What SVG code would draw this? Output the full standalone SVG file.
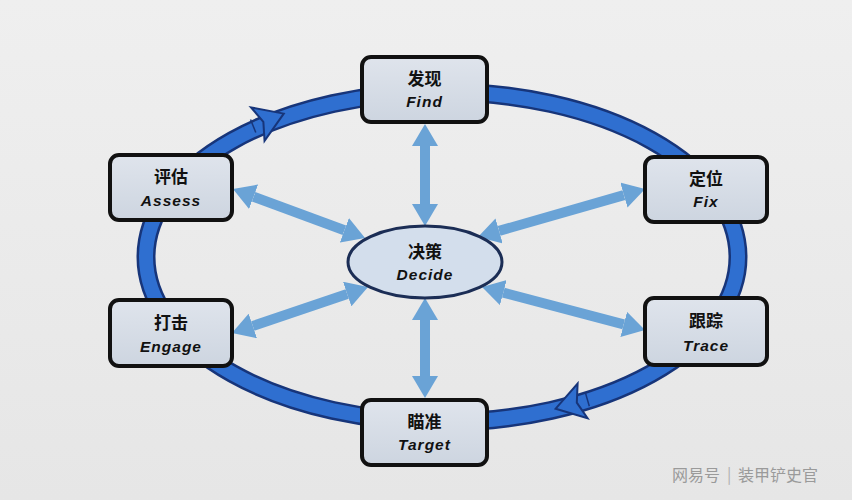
<svg xmlns="http://www.w3.org/2000/svg" width="852" height="500" viewBox="0 0 852 500">
<defs>
<linearGradient id="bg" x1="0" y1="0" x2="0" y2="1">
<stop offset="0" stop-color="#efefef"/>
<stop offset="1" stop-color="#e6e6e6"/>
</linearGradient>
<linearGradient id="boxfill" x1="0" y1="0" x2="0" y2="1">
<stop offset="0" stop-color="#dfe4ec"/>
<stop offset="1" stop-color="#cdd5e0"/>
</linearGradient>
<marker id="ah" markerUnits="userSpaceOnUse" markerWidth="22" markerHeight="26" viewBox="0 0 22 26" refX="0" refY="13" orient="auto-start-reverse">
<path d="M0,0 L22,13 L0,26 z" fill="#6aa3d6"/>
</marker>
</defs>
<style>
.box{fill:url(#boxfill);stroke:#111;stroke-width:4}
.zh{font-family:"Noto Sans CJK SC","Noto Sans",sans-serif;font-weight:bold;font-size:17px;fill:#111;text-anchor:middle}
.en{font-family:"Liberation Sans","DejaVu Sans",sans-serif;font-weight:bold;font-style:italic;font-size:15.5px;letter-spacing:1px;fill:#111;text-anchor:middle}
.arr{stroke:#6aa3d6;stroke-width:10;fill:none;marker-start:url(#ah);marker-end:url(#ah)}
.ringhead{fill:#2f6fd0;stroke:#17357a;stroke-width:2;stroke-linejoin:miter}
</style>
<rect x="0" y="0" width="852" height="500" fill="url(#bg)"/>
<g id="ring">
<ellipse cx="442" cy="257" rx="296" ry="165" fill="none" stroke="#17357a" stroke-width="19"/>
<ellipse cx="442" cy="257" rx="296" ry="165" fill="none" stroke="#2f6fd0" stroke-width="14"/>
<g transform="translate(268,120) rotate(-22)">
<polygon class="ringhead" points="17,0 -11,-18 -5,0 -11,18"/>
<line x1="-16" y1="-7" x2="-16" y2="7" stroke="#17357a" stroke-width="1.5"/>
</g>
<g transform="translate(572,404) rotate(164)">
<polygon class="ringhead" points="17,0 -11,-18 -5,0 -11,18"/>
<line x1="-16" y1="-7" x2="-16" y2="7" stroke="#17357a" stroke-width="1.5"/>
</g>
</g>
<g id="connectors">
<line class="arr" x1="425" y1="204" x2="425" y2="146"/>
<line class="arr" x1="425" y1="320" x2="425" y2="376"/>
<line class="arr" x1="253.6" y1="196.7" x2="344.4" y2="230.3"/>
<line class="arr" x1="499.1" y1="230.9" x2="623.9" y2="195.1"/>
<line class="arr" x1="252.8" y1="326" x2="347.2" y2="294"/>
<line class="arr" x1="503.3" y1="292.6" x2="623.7" y2="324.4"/>
</g>
<g id="decide">
<ellipse cx="425" cy="262" rx="77" ry="36" fill="#d3deec" stroke="#1b2d55" stroke-width="3"/>
<text class="zh" x="425" y="258">决策</text>
<text class="en" x="425" y="280">Decide</text>
</g>
<g id="find">
<rect class="box" x="362" y="57" width="125" height="65" rx="9"/>
<text class="zh" x="424.5" y="85">发现</text>
<text class="en" x="424.5" y="107">Find</text>
</g>
<g id="assess">
<rect class="box" x="110" y="155" width="122" height="65" rx="9"/>
<text class="zh" x="171" y="183">评估</text>
<text class="en" x="171" y="206">Assess</text>
</g>
<g id="fix">
<rect class="box" x="645" y="157" width="122" height="65" rx="9"/>
<text class="zh" x="706" y="185">定位</text>
<text class="en" x="706" y="207">Fix</text>
</g>
<g id="engage">
<rect class="box" x="110" y="300" width="122" height="66" rx="9"/>
<text class="zh" x="171" y="329">打击</text>
<text class="en" x="171" y="352">Engage</text>
</g>
<g id="trace">
<rect class="box" x="645" y="298" width="122" height="67" rx="9"/>
<text class="zh" x="706" y="327">跟踪</text>
<text class="en" x="706" y="351">Trace</text>
</g>
<g id="target">
<rect class="box" x="362" y="400" width="125" height="65" rx="9"/>
<text class="zh" x="424.5" y="428">瞄准</text>
<text class="en" x="424.5" y="450">Target</text>
</g>
<g id="watermark" font-family="'Noto Sans CJK SC','Noto Sans',sans-serif" font-size="16" fill="#9a9a9a">
<text x="672" y="481">网易号</text>
<text x="727" y="480" fill="#b0b0b0">|</text>
<text x="738" y="481">装甲铲史官</text>
</g>
</svg>
